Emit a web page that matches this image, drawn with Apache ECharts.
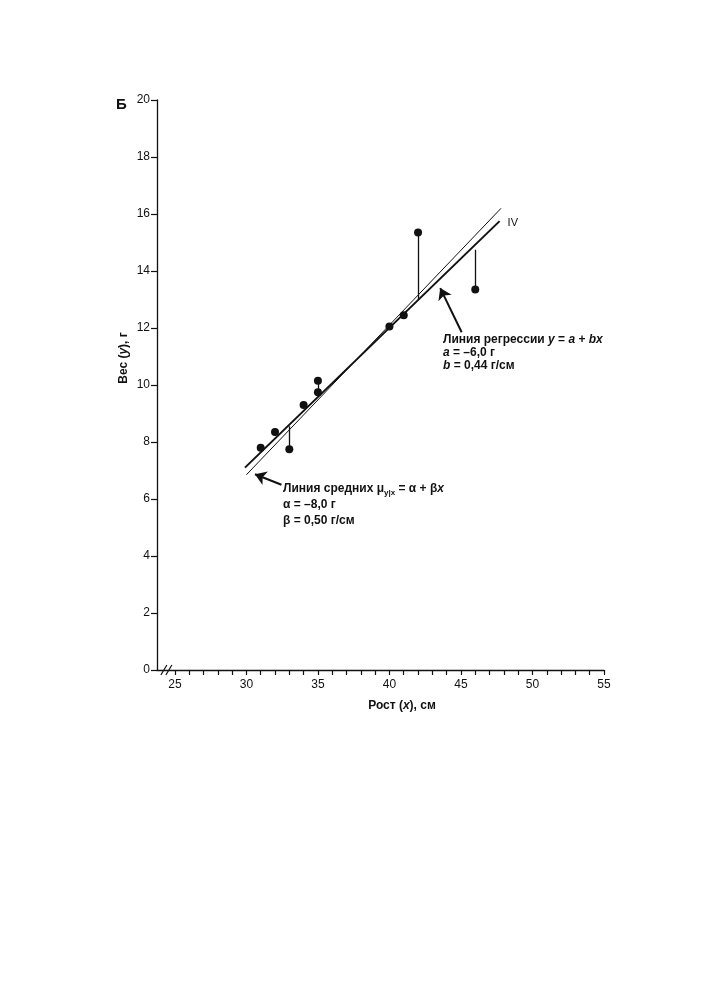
<!DOCTYPE html>
<html><head><meta charset="utf-8">
<script src="https://cdn.jsdelivr.net/npm/echarts@6/dist/echarts.min.js"></script>
<style>html,body{margin:0;padding:0;background:#fff}#c{width:705px;height:1000px}</style>
</head><body><div id="c"></div>
<script>
// ---- data ----
const heightX = [31, 32, 33, 34, 35, 35, 40, 41, 42, 46];
const weightY = [7.8, 8.35, 7.75, 9.3, 10.15, 9.75, 12.05, 12.45, 15.35, 13.35];
const regLineX = [29.9, 47.7];
const regLineY = [7.1, 15.75];
const meanLineX = [30.0, 47.8];
const meanLineY = [6.85, 16.2];
const residX = [33, 35, 42, 46];
const residFrom = [7.75, 10.15, 15.35, 13.35];
const residTo = [8.55, 9.75, 13.0, 14.75];
const arrowRegX = [45.05, 43.55];
const arrowRegY = [11.85, 13.4];
const arrowMeanX = [32.45, 30.6];
const arrowMeanY = [6.5, 6.87];
const xTickLabels = [25, 30, 35, 40, 45, 50, 55];
const xMinorTicks = [];
for (let v = 25; v <= 55; v++) xMinorTicks.push(v);

const FONT = "'Liberation Sans', Arial, sans-serif";
const INK = '#111';

const chart = echarts.init(document.getElementById('c'));

const zip = (a, b) => a.map((v, i) => [v, b[i]]);

const option = {
  animation: false,
  backgroundColor: '#fff',
  grid: { left: 157, right: 101, top: 100, bottom: 330, containLabel: false },
  xAxis: {
    type: 'value', min: 23.75, max: 55,
    axisLine: { show: true, lineStyle: { color: INK, width: 1.3 } },
    axisTick: { show: true, customValues: xMinorTicks, length: 5, lineStyle: { color: INK, width: 1.2 } },
    axisLabel: { customValues: xTickLabels, margin: 9, fontSize: 12, color: INK, fontFamily: FONT },
    splitLine: { show: false }
  },
  yAxis: {
    type: 'value', min: 0, max: 20, interval: 2,
    axisLine: { show: true, lineStyle: { color: INK, width: 1.3 } },
    axisTick: { show: true, length: 6, lineStyle: { color: INK, width: 1.2 } },
    axisLabel: { margin: 7, fontSize: 12, color: INK, fontFamily: FONT },
    splitLine: { show: false }
  },
  series: [
    {
      type: 'line', name: 'means', data: zip(meanLineX, meanLineY), symbol: 'none',
      lineStyle: { color: INK, width: 1 }, z: 2
    },
    {
      type: 'line', name: 'regression', data: zip(regLineX, regLineY), symbol: 'none',
      lineStyle: { color: INK, width: 2 }, z: 3,
      endLabel: { show: true, formatter: 'IV', fontSize: 11, color: INK, fontFamily: FONT, distance: 8, offset: [0, 2] }
    },
    {
      type: 'lines', coordinateSystem: 'cartesian2d', name: 'residuals',
      data: residX.map((x, i) => ({ coords: [[x, residFrom[i]], [x, residTo[i]]] })),
      lineStyle: { color: INK, width: 1.3, opacity: 1 }, symbol: 'none', z: 3
    },
    {
      type: 'lines', coordinateSystem: 'cartesian2d', name: 'arrows',
      data: [
        { coords: zip(arrowRegX, arrowRegY) },
        { coords: zip(arrowMeanX, arrowMeanY) }
      ],
      symbol: ['none', 'arrow'], symbolSize: 11,
      lineStyle: { color: INK, width: 2, opacity: 1 },
      itemStyle: { color: INK }, z: 4
    },
    {
      type: 'scatter', name: 'points', data: zip(heightX, weightY),
      symbol: 'circle', symbolSize: 8, itemStyle: { color: INK, opacity: 1 }, z: 5
    }
  ]
};
chart.setOption(option);

const p0 = chart.convertToPixel({ gridIndex: 0 }, [24.3, 0]);
const rich = {
  n: { fontFamily: FONT, fontWeight: 'bold', fontSize: 12, fill: INK },
  i: { fontFamily: FONT, fontWeight: 'bold', fontStyle: 'italic', fontSize: 12, fill: INK },
  s: { fontFamily: FONT, fontWeight: 'bold', fontSize: 8, fill: INK, padding: [7, 0, 0, 0] }
};
function txt(x, y, text, extra) {
  return Object.assign({
    type: 'text', x: x, y: y, z: 10,
    style: { text: text, rich: rich, font: 'bold 12px ' + FONT, fill: INK, verticalAlign: 'middle' }
  }, extra || {});
}
chart.setOption({
  graphic: [
    { type: 'line', shape: { x1: p0[0] - 4, y1: p0[1] + 5, x2: p0[0] + 2, y2: p0[1] - 5 }, style: { stroke: INK, lineWidth: 1.2 }, z: 10 },
    { type: 'line', shape: { x1: p0[0] + 1, y1: p0[1] + 5, x2: p0[0] + 7, y2: p0[1] - 5 }, style: { stroke: INK, lineWidth: 1.2 }, z: 10 },
    txt(116, 105, 'Б', { style: { text: 'Б', font: 'bold 15px ' + FONT, fill: INK, verticalAlign: 'middle' } }),
    { type: 'text', x: 402, y: 706, z: 10,
      style: { text: '{n|Рост (}{i|x}{n|), см}', rich: rich, align: 'center', verticalAlign: 'middle' } },
    { type: 'text', x: 124, y: 358, rotation: Math.PI / 2, z: 10,
      style: { text: '{n|Вес (}{i|y}{n|), г}', rich: rich, align: 'center', verticalAlign: 'middle' } },
    txt(443, 340, '{n|Линия регрессии }{i|y}{n| = }{i|a}{n| + }{i|bx}'),
    txt(443, 353, '{i|a}{n| = –6,0 г}'),
    txt(443, 366, '{i|b}{n| = 0,44 г/см}'),
    txt(283, 489, '{n|Линия средних μ}{s|y|x}{n| = α + β}{i|x}'),
    txt(283, 505, '{n|α = –8,0 г}'),
    txt(283, 521, '{n|β = 0,50 г/см}')
  ]
});
</script>
</body></html>
